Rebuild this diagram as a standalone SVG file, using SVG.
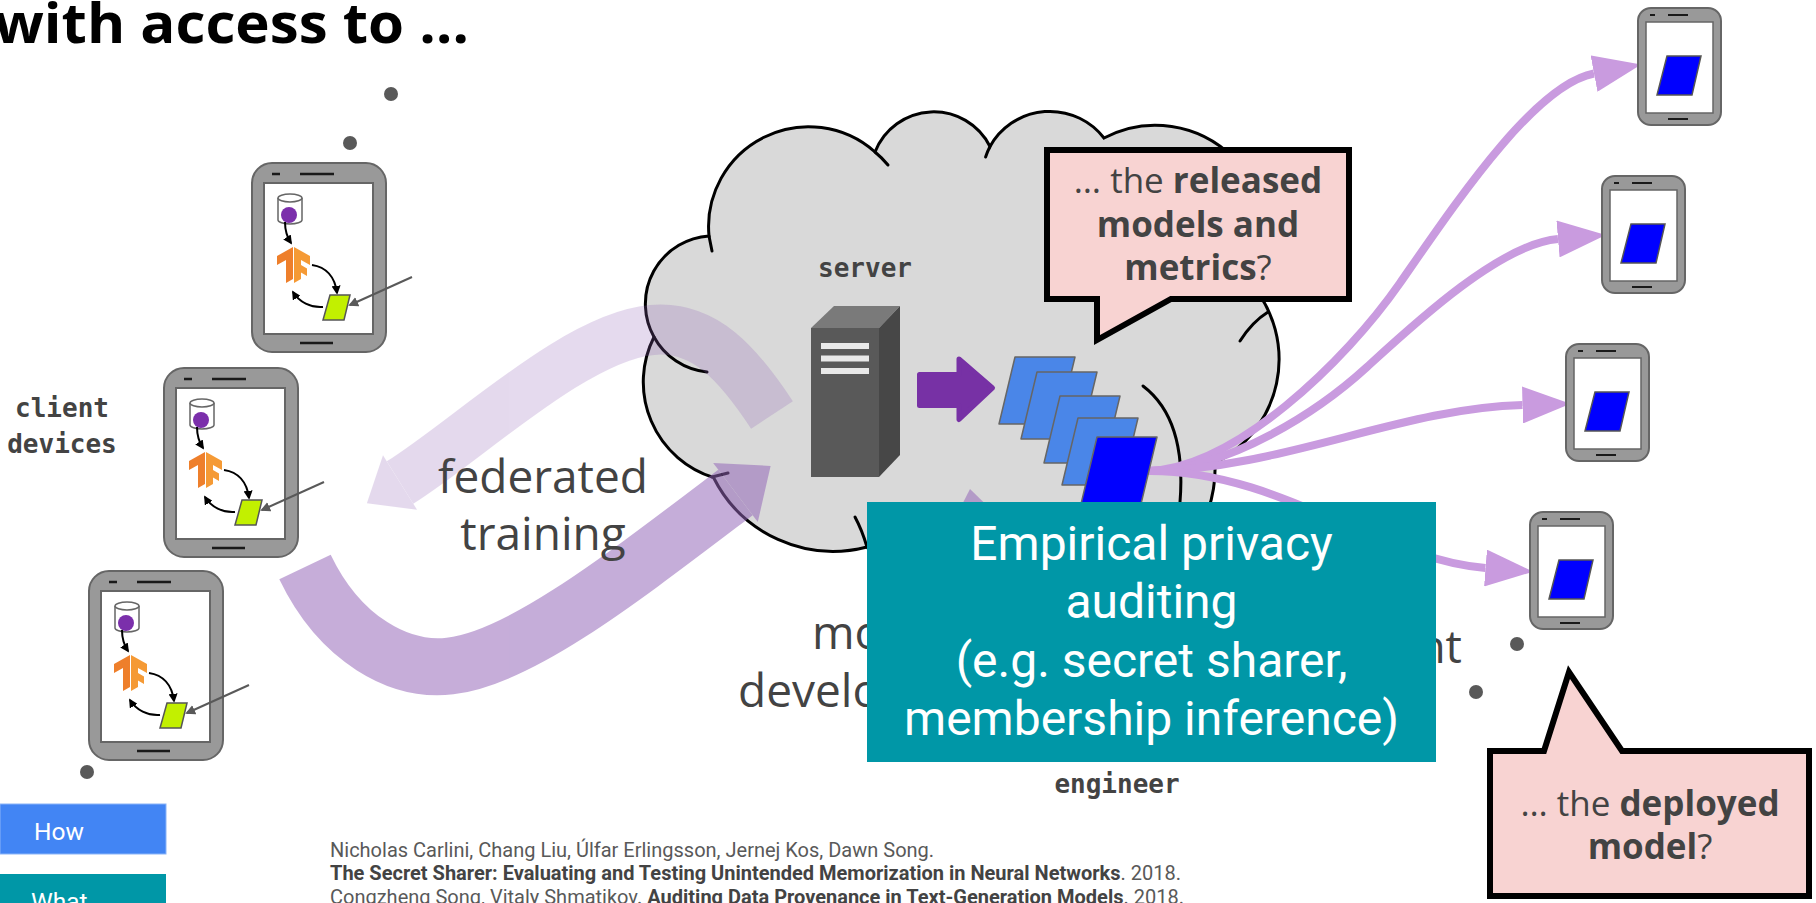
<svg xmlns="http://www.w3.org/2000/svg" width="1816" height="903" viewBox="0 0 1816 903">
<style>
  .title{font-family:"Open Sans","Noto Sans",sans-serif;font-weight:bold;font-size:55px;fill:#000}
  .mono{font-family:"DejaVu Sans Mono","Liberation Mono",monospace;font-weight:bold;font-size:26px;fill:#434343;text-anchor:middle}
  .say{font-family:"Open Sans","Noto Sans",sans-serif;font-size:35px;fill:#434343;text-anchor:middle}
  .b{font-weight:bold}
  .big{font-family:"Open Sans","Noto Sans",sans-serif;font-size:46px;fill:#434343}
  .audit{font-family:Roboto,"Liberation Sans",sans-serif;font-size:48px;fill:#fff;text-anchor:middle}
  .cite{font-family:Roboto,"Liberation Sans",sans-serif;font-size:20px;fill:#595959}
  .cite .b{fill:#434343}
  .btn{font-family:Roboto,"Liberation Sans",sans-serif;font-size:24.5px;fill:#fff}
  .dot{fill:#595959}
  .fan{fill:none;stroke:#C99BDF;stroke-width:8}
  .bubble{fill:#F8D3D2;stroke:#000;stroke-width:6;stroke-linejoin:miter}
  .cl{fill:none;stroke:#000;stroke-width:3;stroke-linecap:round}
  .flow{fill:none;stroke:#000;stroke-width:2}
  .para{stroke:#666;stroke-width:1.5;stroke-linejoin:round}
</style>
<defs>
  <marker id="mBlk" viewBox="0 0 10 10" refX="8" refY="5" markerWidth="4.5" markerHeight="4.5" orient="auto">
    <path d="M0,0 L10,5 L0,10 Z" fill="#000"/>
  </marker>
  <marker id="mGry" viewBox="0 0 10 10" refX="8" refY="5" markerWidth="5" markerHeight="5" orient="auto">
    <path d="M0,0 L10,5 L0,10 Z" fill="#595959"/>
  </marker>
  <marker id="mFan" viewBox="0 0 48 37" refX="0" refY="18.5" markerUnits="userSpaceOnUse" markerWidth="48" markerHeight="37" orient="auto">
    <path d="M0,0 L48,18.5 L0,37 Z" fill="#C99BDF"/>
  </marker>

  <!-- client phone running local training -->
  <g id="phoneL">
    <rect x="1" y="1" width="134" height="189" rx="20" fill="#999" stroke="#666" stroke-width="2"/>
    <rect x="13" y="21" width="109" height="151" fill="#fff" stroke="#666" stroke-width="2"/>
    <path d="M21 12H29M49 12H83M49 181H82" stroke="#1a1a1a" stroke-width="2.5"/>
    <path d="M27 36V58A12 4 0 0 0 51 58V36" fill="#fff" stroke="#666" stroke-width="1.5"/>
    <ellipse cx="39" cy="36" rx="12" ry="4" fill="#fff" stroke="#666" stroke-width="1.5"/>
    <circle cx="38" cy="53" r="8" fill="#7B2FAB"/>
    <path class="flow" d="M34 60Q34 72 40 81" marker-end="url(#mBlk)"/>
    <g transform="translate(26,85)">
      <polygon points="16,0 0,9 0,18 9,13 9,36 16,32" fill="#EE7F2B"/>
      <polygon points="17,0 33,9 33,18 24,13 24,18 30,21.5 30,29 24,25.5 24,32 17,36" fill="#F59A35"/>
    </g>
    <path class="flow" d="M61 103C75 105 84 115 86 131" marker-end="url(#mBlk)"/>
    <polygon points="79,133 99,133 93,158 72,158" fill="#C2F000" stroke="#555" stroke-width="1.5"/>
    <path class="flow" d="M72 145C60 146 48 140 42 130" marker-end="url(#mBlk)"/>
    <path d="M161 115L99 143" stroke="#595959" stroke-width="2" fill="none" marker-end="url(#mGry)"/>
  </g>

  <!-- phone holding the deployed model -->
  <g id="phoneS">
    <rect x="1" y="1" width="83" height="117" rx="13" fill="#999" stroke="#666" stroke-width="2"/>
    <rect x="9" y="15" width="67" height="91" fill="#fff" stroke="#666" stroke-width="1.5"/>
    <path d="M13 8H18M31 8H51M31 112H51" stroke="#1a1a1a" stroke-width="2"/>
    <polygon points="30,49 64,49 55,88 20,88" fill="#00f" stroke="#555" stroke-width="1.5"/>
  </g>

  <polygon id="model" points="0,0 60,0 44,67 -16,67"/>
</defs>

<rect width="1816" height="903" fill="#fff"/>

<text class="title" x="-6" y="43" textLength="475" lengthAdjust="spacingAndGlyphs">with access to …</text>

<!-- continuation dots -->
<g id="dots">
  <circle class="dot" cx="391" cy="94" r="7"/>
  <circle class="dot" cx="350" cy="143" r="7"/>
  <circle class="dot" cx="87" cy="772" r="7"/>
  <circle class="dot" cx="1517" cy="644" r="7"/>
  <circle class="dot" cx="1476" cy="692" r="7"/>
</g>

<!-- server cloud -->
<g id="cloud">
  <path d="M709 236A100 100 0 0 1 875 152A63 63 0 0 1 990 146.5A68.5 68.5 0 0 1 1104 138A110 110 0 0 1 1253 286A116 116 0 0 1 1215 463A130 130 0 0 1 1040 590A130 130 0 0 1 867 547A134 134 0 0 1 713.5 477.5A100 100 0 0 1 654 337A68 68 0 0 1 709 236Z" fill="#D9D9D9" stroke="#000" stroke-width="3"/>
  <path class="cl" d="M709 236L712 251"/>
  <path class="cl" d="M875 152A100 100 0 0 1 888 165"/>
  <path class="cl" d="M990 146.5A68.5 68.5 0 0 0 985.6 157"/>
  <path class="cl" d="M654 337A68 68 0 0 0 707 372"/>
  <path class="cl" d="M712 477L728 473"/>
  <path class="cl" d="M867 547Q862 530 855 517"/>
  <path class="cl" d="M1268 312Q1252 322 1240 341"/>
  <path class="cl" d="M1143 386C1168 405 1185 440 1180 502"/>
</g>

<text class="mono" x="865" y="277">server</text>

<!-- federated training loop -->
<g id="connectors">
  <g opacity="0.24">
    <path d="M772 415C739 365 705 325 652 330C575 337 468 440 400 482.5" fill="none" stroke="#9365B8" stroke-width="50"/>
    <polygon points="383,455.3 366.9,503.2 417,509.7" fill="#9365B8"/>
  </g>
  <g opacity="0.53">
    <path d="M305 567C340 640 400 672 450 666C520 658 620 580 735.5 492.5" fill="none" stroke="#9365B8" stroke-width="57"/>
    <polygon points="713.2,463 770.6,465.9 757.8,522" fill="#9365B8"/>
    <polygon points="970,489 1012,530 940,548" fill="#9365B8"/>
  </g>
  <!-- server to model snapshots -->
  <polygon points="919.5,374.5 959,374.5 959,359 992.5,388 959,419.5 959,405.5 919.5,405.5" fill="#7731A5" stroke="#7731A5" stroke-width="5" stroke-linejoin="round"/>
  <!-- deployment fan-out -->
  <path class="fan" d="M1148 471C1235 468 1345 362 1400 283C1455 204 1534 85 1594 73.5" marker-end="url(#mFan)"/>
  <path class="fan" d="M1148 471C1230 470 1320 410 1367 367C1414 324 1500 244 1558 239" marker-end="url(#mFan)"/>
  <path class="fan" d="M1148 471C1280 470 1400 408 1522.5 405" marker-end="url(#mFan)"/>
  <path class="fan" d="M1148 471C1280 470 1380 560 1485.5 568" marker-end="url(#mFan)"/>
</g>

<g id="server">
  <polygon points="811,328 834,306 900,306 879,328" fill="#7A7A7A"/>
  <rect x="811" y="328" width="68" height="149" fill="#595959"/>
  <polygon points="879,328 900,306 900,455 879,477" fill="#474747"/>
  <rect x="821" y="343" width="48" height="6" fill="#E8E8E8"/>
  <rect x="821" y="355.5" width="48" height="6" fill="#E8E8E8"/>
  <rect x="821" y="368" width="48" height="6" fill="#E8E8E8"/>
</g>

<g id="models">
  <use href="#model" x="1015" y="357" class="para" fill="#4A86E8"/>
  <use href="#model" x="1037" y="372" class="para" fill="#4A86E8"/>
  <use href="#model" x="1060" y="396" class="para" fill="#4A86E8"/>
  <use href="#model" x="1078" y="418" class="para" fill="#4A86E8"/>
  <use href="#model" x="1097" y="437" class="para" fill="#0000FF"/>
</g>

<!-- client devices -->
<g id="client1"><use href="#phoneL" x="251" y="162"/></g>
<g id="client2"><use href="#phoneL" x="163" y="367"/></g>
<g id="client3"><use href="#phoneL" x="88" y="570"/></g>
<text class="mono" x="62" y="417">client</text>
<text class="mono" x="62" y="453">devices</text>

<text class="big" x="543" y="493" text-anchor="middle">federated</text>
<text class="big" x="543" y="550" text-anchor="middle">training</text>
<text class="big" x="812" y="649">mo</text>
<text class="big" x="738" y="707">develo</text>
<text class="big" x="1462" y="663" text-anchor="end">nt</text>

<!-- deployed devices -->
<g id="device1"><use href="#phoneS" x="1637" y="7"/></g>
<g id="device2"><use href="#phoneS" x="1601" y="175"/></g>
<g id="device3"><use href="#phoneS" x="1565" y="343"/></g>
<g id="device4"><use href="#phoneS" x="1529" y="511"/></g>

<!-- callouts -->
<g id="callout-released">
  <path class="bubble" d="M1047 150H1349V299H1171L1097 340V299H1047Z"/>
  <text class="say" x="1198" y="193">… the <tspan class="b">released</tspan></text>
  <text class="say" x="1198" y="237"><tspan class="b">models and</tspan></text>
  <text class="say" x="1198" y="280"><tspan class="b">metrics</tspan>?</text>
</g>
<g id="callout-deployed">
  <path class="bubble" d="M1490 751H1544L1569 672L1622 751H1809V896H1490Z"/>
  <text class="say" x="1650" y="816">… the <tspan class="b">deployed</tspan></text>
  <text class="say" x="1650" y="859"><tspan class="b">model</tspan>?</text>
</g>

<text class="mono" x="1117" y="793">engineer</text>

<g id="auditing">
  <rect x="867" y="502" width="569" height="260" fill="#0097A7"/>
  <text class="audit" x="1151.5" y="560">Empirical privacy</text>
  <text class="audit" x="1151.5" y="618">auditing</text>
  <text class="audit" x="1151.5" y="677">(e.g. secret sharer,</text>
  <text class="audit" x="1151.5" y="735">membership inference)</text>
</g>

<g id="nav">
  <rect x="0" y="804" width="166" height="50" fill="#4285F4" stroke="#8AB4F8" stroke-width="1"/>
  <text class="btn" x="34" y="840">How</text>
  <rect x="0" y="874" width="166" height="40" fill="#0097A7"/>
  <text class="btn" x="31" y="910">What</text>
</g>

<g id="references">
  <text class="cite" x="330" y="857">Nicholas Carlini, Chang Liu, Úlfar Erlingsson, Jernej Kos, Dawn Song.</text>
  <text class="cite" x="330" y="880"><tspan class="b">The Secret Sharer: Evaluating and Testing Unintended Memorization in Neural Networks</tspan>. 2018.</text>
  <text class="cite" x="330" y="904">Congzheng Song, Vitaly Shmatikov. <tspan class="b">Auditing Data Provenance in Text-Generation Models</tspan>. 2018.</text>
</g>
</svg>
